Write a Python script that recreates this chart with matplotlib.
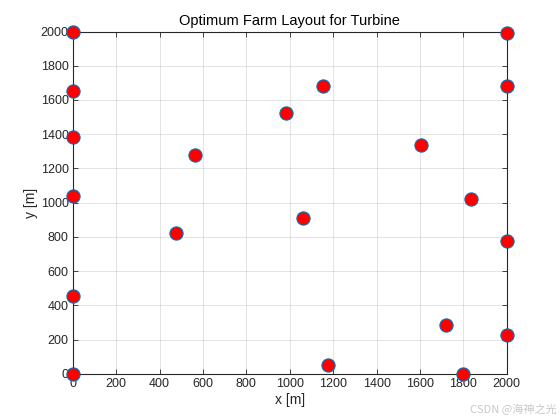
import matplotlib
matplotlib.use("Agg")
import matplotlib.pyplot as plt

plt.rcParams['font.family'] = ['Liberation Sans', 'DejaVu Sans']

# turbine positions [m]
x_pos = [0, 0, 0, 0, 0, 0, 562, 981, 1155, 2000, 2000, 1606, 1834,
         475, 1059, 1175, 2000, 1720, 2000, 1798]
y_pos = [2000, 1652, 1385, 1038, 454, 0, 1276, 1526, 1682, 1990, 1684, 1338, 1020,
         825, 913, 49, 777, 283, 228, 0]

x_ticks = list(range(0, 2001, 200))
y_ticks = list(range(0, 2001, 200))

fig = plt.figure(figsize=(5.6, 4.2), dpi=100)
ax = fig.add_axes([0.13, 0.11, 0.775, 0.815])

ax.plot(x_pos, y_pos, 'o', markersize=9.5, markerfacecolor='red',
        markeredgecolor='#0072BD', markeredgewidth=0.8, clip_on=False, zorder=3)

ax.set_xlim(0, 2000)
ax.set_ylim(0, 2000)
ax.set_xticks(x_ticks)
ax.set_yticks(y_ticks)
ax.grid(True, color='#262626', alpha=0.15, linewidth=0.6)
ax.set_axisbelow(True)
ax.tick_params(direction='in', top=True, right=True, length=3.5, width=0.6,
               labelsize=9, colors='#262626', pad=3)
for s in ax.spines.values():
    s.set_linewidth(0.8)
    s.set_color('#262626')

ax.set_title('Optimum Farm Layout for Turbine', fontsize=10.5, pad=5)
ax.set_xlabel('x [m]', fontsize=10, color='#262626', labelpad=2)
ax.set_ylabel('y [m]', fontsize=10, color='#262626', labelpad=2)

fig.text(0.995, 0.012, 'CSDN @海神之光', ha='right', va='bottom', fontsize=8,
         color='#c8c8c8', family=['Noto Sans CJK SC', 'DejaVu Sans'])

fig.savefig('out.png', dpi=100)
